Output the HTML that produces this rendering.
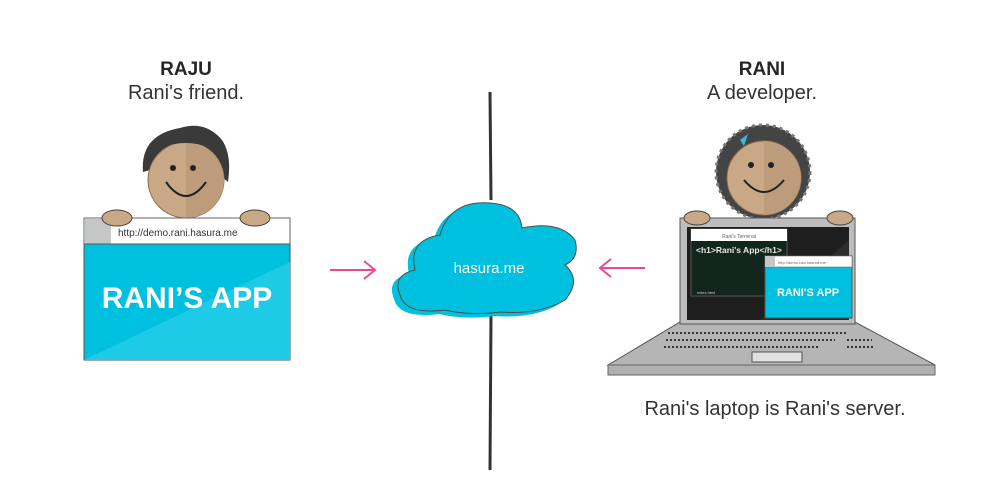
<!DOCTYPE html>
<html><head><meta charset="utf-8"><style>
html,body{margin:0;padding:0;background:#fff;width:1000px;height:478px;overflow:hidden}
svg{display:block}
.h{font-family:"Liberation Sans",sans-serif}
</style></head><body>
<svg width="1000" height="478" viewBox="0 0 1000 478" xmlns="http://www.w3.org/2000/svg">
<text x="186" y="75" text-anchor="middle" class="h" font-size="19" font-weight="900" fill="#2a2424">RAJU</text>
<text x="186" y="99" text-anchor="middle" class="h" font-size="20" fill="#333">Rani's friend.</text>
<text x="762" y="75" text-anchor="middle" class="h" font-size="19" font-weight="900" fill="#2a2424">RANI</text>
<text x="762" y="99" text-anchor="middle" class="h" font-size="20" fill="#333">A developer.</text>

<!-- Raju face -->
<path d="M143,172 Q140,135 180,128 Q205,120 222,140 Q232,155 228,182 L220,175 Q210,145 186,143 Q160,145 150,170Z" fill="#3a3a3a"/>
<circle cx="186" cy="180" r="38" fill="#c9a886" stroke="#8a6a50" stroke-width="1"/>
<path d="M186,142 A38,38 0 0 1 186,218Z" fill="#bd9c7c"/>
<path d="M146,160 Q152,133 186,132 Q215,132 226,160 Q210,143 186,143 Q160,143 146,160Z" fill="#3a3a3a"/>
<circle cx="173" cy="168" r="3" fill="#222"/><circle cx="193" cy="168" r="3" fill="#222"/>
<path d="M166,182 Q186,210 206,182" fill="none" stroke="#222" stroke-width="2"/>

<rect x="84" y="218" width="206" height="26" fill="#fff" stroke="#666" stroke-width="1"/>
<rect x="85" y="219" width="26" height="25" fill="#c5c6c8"/>
<text x="118" y="236" class="h" font-size="10" fill="#333">http://demo.rani.hasura.me</text>
<rect x="84" y="244" width="206" height="116" fill="#00c0e0" stroke="#555" stroke-width="1"/>
<path d="M84,360 L290,262 L290,360Z" fill="#1dcbe6"/>
<text x="187" y="308" text-anchor="middle" class="h" font-size="30" font-weight="900" fill="#fff">RANI’S APP</text>
<ellipse cx="117" cy="218" rx="15" ry="8" fill="#c9a886" stroke="#444" stroke-width="1"/>
<ellipse cx="255" cy="218" rx="15" ry="8" fill="#c9a886" stroke="#444" stroke-width="1"/>

<path d="M490,92 L491,200 M491,315 L490,470" stroke="#333" stroke-width="3"/>
<g>
<path d="M400,295 Q392,275 415,270 Q408,240 440,235 Q450,200 490,203 Q520,205 522,228 Q560,220 575,240 Q580,258 565,265 Q582,280 565,300 Q540,315 500,312 Q470,316 445,310 Q405,315 400,295Z" fill="#00c0e0" transform="translate(-6,4)"/>
<path d="M400,295 Q392,275 415,270 Q408,240 440,235 Q450,200 490,203 Q520,205 522,228 Q560,220 575,240 Q580,258 565,265 Q582,280 565,300 Q540,315 500,312 Q470,316 445,310 Q405,315 400,295Z" fill="#00c0e0" stroke="#5a4a40" stroke-width="1"/>
<text x="489" y="273" text-anchor="middle" class="h" font-size="15" fill="#fff">hasura.me</text>
</g>
<g stroke="#f0488f" stroke-width="2" fill="none">
<path d="M330,270 L374,270 M364,261 L375,270 L364,279"/>
<path d="M645,268 L600,268 M611,259 L600,268 L611,277"/>
</g>

<circle cx="763" cy="172" r="47" fill="#444"/>
<circle cx="763" cy="172" r="47" fill="none" stroke="#777" stroke-width="3" stroke-dasharray="3 4"/>
<circle cx="764" cy="178" r="37" fill="#c9a886" stroke="#8a6a50" stroke-width="1"/>
<path d="M764,141 A37,37 0 0 1 764,215Z" fill="#bd9c7c"/>
<path d="M740,140 L748,134 L744,146Z" fill="#3ab8e0"/>
<circle cx="751" cy="165" r="3" fill="#222"/><circle cx="771" cy="165" r="3" fill="#222"/>
<path d="M744,180 Q764,204 784,180" fill="none" stroke="#222" stroke-width="2"/>

<path d="M680,322 L855,322 L935,365 L608,365Z" fill="#b5b5b5" stroke="#555" stroke-width="1"/>
<rect x="608" y="365" width="327" height="10" fill="#b0b0b0" stroke="#666" stroke-width="1"/>
<rect x="680" y="218" width="175" height="106" fill="#bdbdbd" stroke="#555" stroke-width="1"/>
<rect x="687" y="227" width="162" height="93" fill="#1e1e1e"/>
<path d="M760,320 L849,240 L849,320Z" fill="#2c2c2c"/>
<rect x="691" y="229" width="96" height="67" fill="#13261d" stroke="#555" stroke-width="1"/>
<rect x="691" y="229" width="96" height="12" fill="#fff"/>
<text x="739" y="238" text-anchor="middle" class="h" font-size="5" fill="#666">Rani's Terminal</text>
<text x="696" y="253" class="h" font-size="8.5" font-weight="bold" fill="#e8e8e8">&lt;h1&gt;Rani's App&lt;/h1&gt;</text>
<text x="697" y="294" class="h" font-size="4" fill="#ccc">index.html</text>
<rect x="765" y="256" width="87" height="62" fill="#00c0e0" stroke="#555" stroke-width="1"/>
<rect x="765" y="256" width="87" height="11" fill="#fff" stroke="#555" stroke-width="0.5"/>
<rect x="765" y="256" width="10" height="11" fill="#c5c6c8"/>
<text x="778" y="264" class="h" font-size="4" fill="#666">http://demo.rani.hasura.me</text>
<text x="808" y="296" text-anchor="middle" class="h" font-size="11" font-weight="900" fill="#fff">RANI'S APP</text>
<g stroke="#333" stroke-width="2" stroke-dasharray="2 2">
<path d="M668,333 L847,333 M666,340 L835,340 M664,347 L818,347 M847,340 L872,340 M847,347 L875,347"/>
</g>
<rect x="752" y="352" width="50" height="10" fill="#e0e0e0" stroke="#555" stroke-width="1"/>
<ellipse cx="697" cy="218" rx="13" ry="7" fill="#c9a886" stroke="#444" stroke-width="1"/>
<ellipse cx="840" cy="218" rx="13" ry="7" fill="#c9a886" stroke="#444" stroke-width="1"/>

<text x="775" y="415" text-anchor="middle" class="h" font-size="20" fill="#333">Rani's laptop is Rani's server.</text>
</svg>
</body></html>
